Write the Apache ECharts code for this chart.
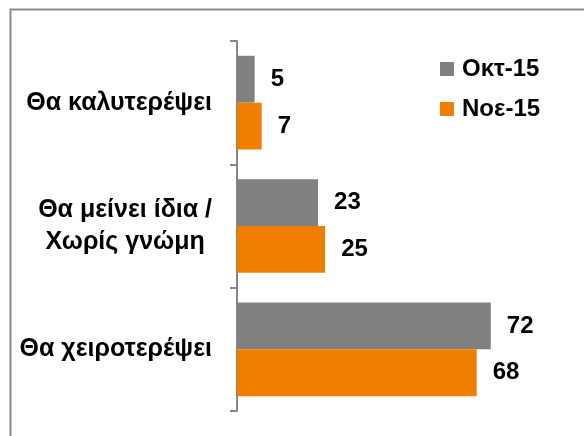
<!DOCTYPE html>
<html>
<head>
<meta charset="utf-8">
<script src="https://cdn.jsdelivr.net/npm/echarts@6/dist/echarts.min.js"></script>
<style>
html,body{margin:0;padding:0;background:#fff;}
#chart{width:584px;height:436px;}
</style>
</head>
<body>
<div id="chart"></div>
<script>
const categories = ['Θα καλυτερέψει', 'Θα μείνει ίδια /\nΧωρίς γνώμη', 'Θα χειροτερέψει'];
const seriesNames = ['Οκτ-15', 'Νοε-15'];
const octValues = [5, 23, 72];
const novValues = [7, 25, 68];

const FONT = '"Liberation Sans", Arial, sans-serif';
const chart = echarts.init(document.getElementById('chart'), null, {renderer: 'canvas'});
chart.setOption({
  animation: false,
  backgroundColor: '#ffffff',
  graphic: [{
    type: 'rect',
    shape: {x: 10.5, y: 9.5, width: 700, height: 600},
    style: {fill: 'none', stroke: '#8a8a8a', lineWidth: 2},
    silent: true, z: 100
  }],
  grid: {left: 237, top: 41, width: 282, height: 370, containLabel: false},
  legend: {
    orient: 'vertical',
    left: 435, top: 52, padding: 5,
    itemWidth: 14, itemHeight: 14, itemGap: 16,
    icon: 'rect',
    textStyle: {fontFamily: FONT, fontWeight: 'bold', fontSize: 24, color: '#000', padding: [0, 0, 0, 3]},
    data: seriesNames
  },
  xAxis: {
    type: 'value', min: 0, max: 80,
    show: false
  },
  yAxis: {
    type: 'category', inverse: true,
    data: categories,
    axisLine: {show: true, lineStyle: {color: '#868686', width: 2}},
    axisTick: {show: true, length: 7, lineStyle: {color: '#868686', width: 2}},
    axisLabel: {
      margin: 25,
      fontFamily: FONT, fontWeight: 'bold', fontSize: 25, color: '#000', lineHeight: 32,
      formatter: function (v) { return v.split('\n').map(s => '{c|' + s + '}').join('\n'); },
      rich: {c: {align: 'center', fontFamily: FONT, fontWeight: 'bold', fontSize: 25, color: '#000', lineHeight: 32}}
    }
  },
  series: [
    {
      name: seriesNames[0], type: 'bar', data: octValues,
      barGap: '0%', barCategoryGap: '24%',
      itemStyle: {color: '#808080'},
      label: {show: true, position: 'right', distance: 16, fontFamily: FONT, fontWeight: 'bold', fontSize: 24, color: '#000'}
    },
    {
      name: seriesNames[1], type: 'bar', data: novValues,
      barGap: '0%', barCategoryGap: '24%',
      itemStyle: {color: '#F07F00'},
      label: {show: true, position: 'right', distance: 16, fontFamily: FONT, fontWeight: 'bold', fontSize: 24, color: '#000'}
    }
  ]
});
</script>
</body>
</html>
